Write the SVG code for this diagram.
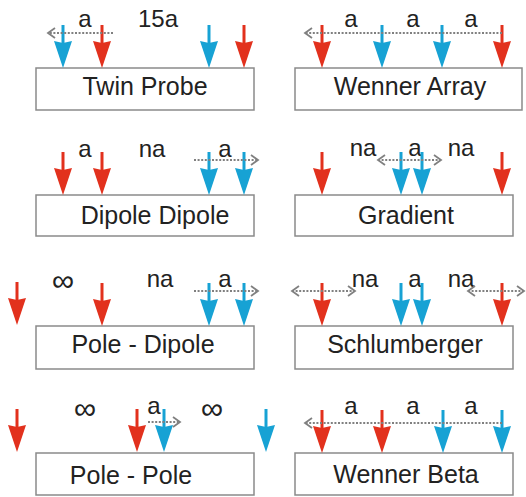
<svg xmlns="http://www.w3.org/2000/svg" xmlns:xlink="http://www.w3.org/1999/xlink" width="526" height="497" viewBox="0 0 526 497">
<style>
.box{fill:#fff;stroke:#8a8a8a;stroke-width:1.5}
.name{font-family:"Liberation Sans",Arial,sans-serif;font-size:25px;fill:#222;text-anchor:middle}
.lab{font-family:"Liberation Sans",Arial,sans-serif;font-size:24px;fill:#222;text-anchor:middle}
.inf{font-family:"Liberation Sans",Arial,sans-serif;font-size:31px;fill:#222;text-anchor:middle}
.dot{fill:none;stroke:#808080;stroke-width:2;stroke-dasharray:2 1.6;marker-end:url(#ch)}
.dbl{marker-start:url(#ch)}
</style>
<defs>
<marker id="ch" markerUnits="userSpaceOnUse" markerWidth="10" markerHeight="12" refX="7" refY="5" orient="auto-start-reverse" overflow="visible">
<path d="M0,0 L7,5 L0,10" fill="none" stroke="#808080" stroke-width="1.8"/>
</marker>
<g id="R"><line x1="0" y1="-43" x2="0" y2="-22" stroke="#e2311d" stroke-width="3"/><path d="M-9,-27 L0,-25 L9,-27 L0,0 Z" fill="#e2311d"/></g>
<g id="B"><line x1="0" y1="-43" x2="0" y2="-22" stroke="#17a2d4" stroke-width="3"/><path d="M-9,-27 L0,-25 L9,-27 L0,0 Z" fill="#17a2d4"/></g>
</defs>

<g id="twin-probe">
<rect class="box" x="36" y="68" width="218" height="42"/>
<text class="name" x="145" y="95">Twin Probe</text>
<text class="lab" x="85" y="27">a</text>
<text class="lab" x="158" y="27">15a</text>
<use xlink:href="#B" x="63" y="68"/>
<use xlink:href="#R" x="102" y="68"/>
<use xlink:href="#B" x="209" y="68"/>
<use xlink:href="#R" x="244" y="68"/>
</g>

<g id="wenner-array">
<rect class="box" x="295" y="68" width="227" height="42"/>
<text class="name" x="410" y="95">Wenner Array</text>
<text class="lab" x="351" y="27">a</text>
<text class="lab" x="413" y="27">a</text>
<text class="lab" x="471" y="27">a</text>
<use xlink:href="#R" x="322" y="68"/>
<use xlink:href="#B" x="382" y="68"/>
<use xlink:href="#B" x="442" y="68"/>
<use xlink:href="#R" x="502" y="68"/>
</g>

<g id="dipole-dipole">
<rect class="box" x="36" y="195" width="218" height="41"/>
<text class="name" x="155" y="224">Dipole Dipole</text>
<text class="lab" x="85" y="157">a</text>
<text class="lab" x="152" y="157">na</text>
<text class="lab" x="225" y="157">a</text>
<use xlink:href="#R" x="63" y="195"/>
<use xlink:href="#R" x="102" y="195"/>
<use xlink:href="#B" x="209" y="195"/>
<use xlink:href="#B" x="244" y="195"/>
</g>

<g id="gradient">
<rect class="box" x="295" y="195" width="218" height="41"/>
<text class="name" x="406" y="224">Gradient</text>
<text class="lab" x="363" y="156">na</text>
<text class="lab" x="415" y="156">a</text>
<text class="lab" x="461" y="156">na</text>
<use xlink:href="#R" x="322" y="195"/>
<use xlink:href="#B" x="401" y="195"/>
<use xlink:href="#B" x="422" y="195"/>
<use xlink:href="#R" x="502" y="195"/>
</g>

<g id="pole-dipole">
<rect class="box" x="36" y="326" width="218" height="43"/>
<text class="name" x="143" y="353">Pole - Dipole</text>
<text class="inf" x="63" y="291">∞</text>
<text class="lab" x="160" y="287">na</text>
<text class="lab" x="225" y="287">a</text>
<use xlink:href="#R" x="17" y="325"/>
<use xlink:href="#R" x="102" y="326"/>
<use xlink:href="#B" x="209" y="326"/>
<use xlink:href="#B" x="244" y="326"/>
</g>

<g id="schlumberger">
<rect class="box" x="295" y="326" width="218" height="43"/>
<text class="name" x="405" y="353">Schlumberger</text>
<text class="lab" x="365" y="287">na</text>
<text class="lab" x="415" y="287">a</text>
<text class="lab" x="461" y="287">na</text>
<use xlink:href="#R" x="322" y="326"/>
<use xlink:href="#B" x="401" y="326"/>
<use xlink:href="#B" x="422" y="326"/>
<use xlink:href="#R" x="502" y="326"/>
</g>

<g id="pole-pole">
<rect class="box" x="36" y="453" width="218" height="42"/>
<text class="name" x="131" y="484">Pole - Pole</text>
<text class="inf" x="85" y="419">∞</text>
<text class="lab" x="154" y="414">a</text>
<text class="inf" x="212" y="419">∞</text>
<use xlink:href="#R" x="17" y="452"/>
<use xlink:href="#R" x="137" y="452"/>
<use xlink:href="#B" x="164" y="452"/>
<use xlink:href="#B" x="266" y="452"/>
</g>

<g id="wenner-beta">
<rect class="box" x="295" y="453" width="218" height="42"/>
<text class="name" x="406" y="483">Wenner Beta</text>
<text class="lab" x="351" y="414">a</text>
<text class="lab" x="413" y="414">a</text>
<text class="lab" x="471" y="414">a</text>
<use xlink:href="#R" x="322" y="453"/>
<use xlink:href="#R" x="382" y="453"/>
<use xlink:href="#B" x="443" y="453"/>
<use xlink:href="#B" x="502" y="453"/>
</g>

<g id="connectors">
<path class="dot" d="M113,33 H48"/>
<path class="dot" d="M502,33 H305"/>
<path class="dot" d="M194,160 H258"/>
<path class="dot dbl" d="M378,160 H441"/>
<path class="dot" d="M194,291 H258"/>
<path class="dot dbl" d="M292,291 H355"/>
<path class="dot dbl" d="M468,291 H524"/>
<path class="dot" d="M148,422 H180"/>
<path class="dot" d="M502,423 H305"/>
</g>
</svg>
